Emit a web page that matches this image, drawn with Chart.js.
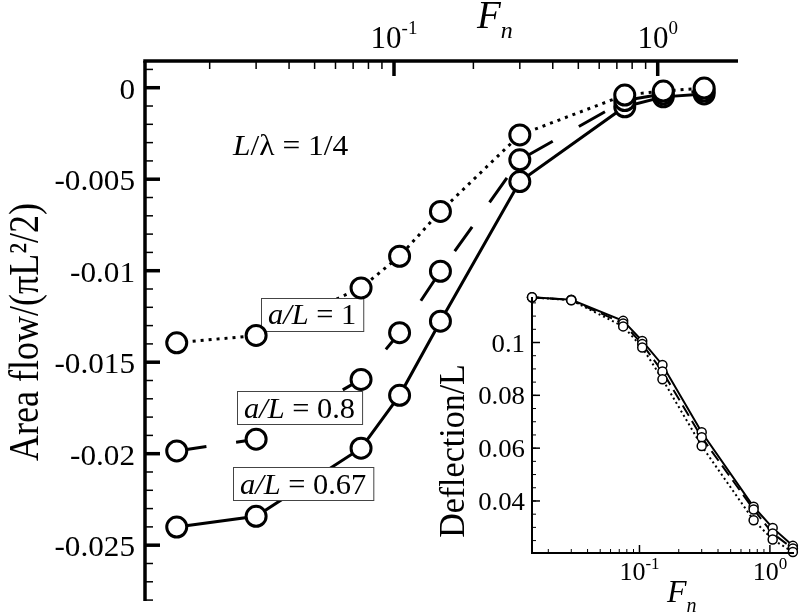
<!DOCTYPE html>
<html>
<head>
<meta charset="utf-8">
<script src="https://cdn.jsdelivr.net/npm/chart.js@4.4.1/dist/chart.umd.min.js"></script>
<style>
  html, body { margin: 0; padding: 0; background: #fff; }
  #quadro { position: relative; width: 800px; height: 614px; }
  #quadro canvas { position: absolute; left: 0; top: 0; }
</style>
</head>
<body>
<div id="quadro">
  <canvas id="graficoFluxo" width="800" height="614"></canvas>
  <canvas id="graficoDeflexao" width="800" height="614"></canvas>
</div>
<script>
const numerosFroude = [0.015, 0.03, 0.075, 0.105, 0.15, 0.3, 0.75, 1.05, 1.5];

const fluxoA100 = [-0.01394, -0.01354, -0.01094, -0.00921, -0.00676, -0.00258, -0.0004, -0.00018, -0.00002];
const fluxoA080 = [-0.01985, -0.01921, -0.01594, -0.01339, -0.01003, -0.00394, -0.0007, -0.00034, -0.00018];
const fluxoA067 = [-0.02401, -0.02342, -0.0197, -0.01681, -0.01276, -0.00513, -0.00104, -0.0005, -0.00034];

const deflexaoA100 = [0.1171, 0.116, 0.1061, 0.0981, 0.0861, 0.0608, 0.0327, 0.0254, 0.0207];
const deflexaoA080 = [0.1171, 0.1161, 0.1072, 0.0994, 0.089, 0.0641, 0.0368, 0.0277, 0.022];
const deflexaoA067 = [0.1171, 0.1162, 0.1082, 0.1006, 0.0915, 0.066, 0.0378, 0.0298, 0.023];

const ticksFluxo = [0, -0.005, -0.01, -0.015, -0.02, -0.025];
const rotulosFluxo = ["0", "-0.005", "-0.01", "-0.015", "-0.02", "-0.025"];
const ticksDeflexao = [0.1, 0.08, 0.06, 0.04];
const rotulosDeflexao = ["0.1", "0.08", "0.06", "0.04"];
const decadas = [0.1, 1];
const expoentes = ["-1", "0"];
const rotulosSeries = ["1", "0.8", "0.67"];

const FONTE = '"Liberation Serif", "DejaVu Serif", serif';

function fonte(tamanho, italico) {
  return `${italico ? "italic " : ""}${tamanho}px ${FONTE}`;
}

function pontos(valores) {
  return numerosFroude.map((x, i) => ({ x, y: valores[i] }));
}

function ticksMenoresLog(inicio, fim) {
  const lista = [];
  for (let d = inicio; d <= fim; d *= 10) {
    for (let k = 2; k <= 9; k++) lista.push(k * d);
  }
  return lista;
}

function medirPartes(ctx, partes) {
  return partes.reduce((total, p) => {
    ctx.font = fonte(p.tamanho, p.italico);
    return total + ctx.measureText(p.texto).width;
  }, 0);
}

// texto em partes (itálico, sobrescrito, subscrito), com leve esticamento horizontal
function escreverPartes(ctx, partes, x, y, alinhamento, escala = 1) {
  const largura = medirPartes(ctx, partes) * escala;

  let inicio = x;
  if (alinhamento === "center") inicio = x - largura / 2;
  if (alinhamento === "right") inicio = x - largura;

  ctx.save();
  ctx.translate(inicio, y);
  ctx.scale(escala, 1);
  ctx.textAlign = "left";
  ctx.textBaseline = "alphabetic";
  ctx.fillStyle = "#000";
  let cursor = 0;
  partes.forEach(p => {
    ctx.font = fonte(p.tamanho, p.italico);
    ctx.fillText(p.texto, cursor, -(p.subida || 0));
    cursor += ctx.measureText(p.texto).width;
  });
  ctx.restore();

  return largura;
}

function escreverVertical(ctx, texto, tamanho, x, y, escala = 1) {
  ctx.save();
  ctx.translate(x, y);
  ctx.rotate(-Math.PI / 2);
  ctx.scale(1, escala);
  ctx.font = fonte(tamanho, false);
  ctx.fillStyle = "#000";
  ctx.textAlign = "center";
  ctx.textBaseline = "alphabetic";
  ctx.fillText(texto, 0, 0);
  ctx.restore();
}

function traco(ctx, x1, y1, x2, y2, largura) {
  ctx.lineWidth = largura;
  ctx.beginPath();
  ctx.moveTo(x1, y1);
  ctx.lineTo(x2, y2);
  ctx.stroke();
}

// caixas com o valor de a/L (cobrem as linhas, ficam abaixo dos círculos)
function desenharCaixas(chart) {
  const ctx = chart.ctx;
  const caixas = [
    { x: 261, y: 298, base: 324 },
    { x: 237, y: 391, base: 418 },
    { x: 233, y: 467, base: 494 }
  ];

  ctx.save();
  caixas.forEach((caixa, i) => {
    const partes = [
      { texto: "a/L", tamanho: 29, italico: true },
      { texto: " = " + rotulosSeries[i], tamanho: 29 }
    ];
    const largura = medirPartes(ctx, partes) * 1.05;

    ctx.fillStyle = "#fff";
    ctx.fillRect(caixa.x, caixa.y, largura + 14, 33);
    ctx.strokeStyle = "#444";
    ctx.lineWidth = 1;
    ctx.strokeRect(caixa.x + 0.5, caixa.y + 0.5, largura + 14, 33);
    escreverPartes(ctx, partes, caixa.x + 7, caixa.base, "left", 1.05);
  });
  ctx.restore();
}

const eixosFluxo = {
  id: "eixosFluxo",
  afterDatasetDraw(chart, args) {
    if (args.index === 3) desenharCaixas(chart);
  },
  afterDatasetsDraw(chart) {
    const { ctx, chartArea } = chart;
    const { x: escalaX, y: escalaY } = chart.scales;
    const { left, top, right, bottom } = chartArea;

    ctx.save();
    ctx.strokeStyle = "#000";
    ctx.lineCap = "butt";

    // eixo superior (log) e eixo esquerdo
    traco(ctx, left - 1.75, top, right, top, 3.5);
    traco(ctx, left, top, left, bottom, 3.5);

    ticksMenoresLog(0.01, 0.1).forEach(valor => {
      const px = escalaX.getPixelForValue(valor);
      if (px > left + 2 && px < right) traco(ctx, px, top, px, top + 8, 1.5);
    });
    decadas.forEach((valor, i) => {
      const px = escalaX.getPixelForValue(valor);
      traco(ctx, px, top, px, top + 15, 3.5);
      escreverPartes(ctx, [
        { texto: "10", tamanho: 31 },
        { texto: expoentes[i], tamanho: 19, subida: 14 }
      ], px, 48, "center");
    });

    for (let v = 1; v >= -28; v--) {
      const py = escalaY.getPixelForValue(v / 1000);
      if (py > top + 2 && py < bottom) traco(ctx, left, py, left + 8, py, 1.5);
    }
    ticksFluxo.forEach((valor, i) => {
      const py = escalaY.getPixelForValue(valor);
      traco(ctx, left, py, left + 15, py, 3.5);
      escreverPartes(ctx, [{ texto: rotulosFluxo[i], tamanho: 30 }], 135, py + 11, "right", 1.04);
    });

    escreverPartes(ctx, [
      { texto: "F", tamanho: 39, italico: true },
      { texto: "n", tamanho: 24, italico: true, subida: -10 }
    ], 477, 28, "left");

    escreverPartes(ctx, [
      { texto: "L", tamanho: 30, italico: true },
      { texto: "/λ = 1/4", tamanho: 30 }
    ], 233, 155, "left", 1.05);

    escreverVertical(ctx, "Area flow/(πL²/2)", 36, 38, 332, 1.15);
    ctx.restore();
  }
};

const eixosDeflexao = {
  id: "eixosDeflexao",
  afterDatasetsDraw(chart) {
    const { ctx, chartArea } = chart;
    const { x: escalaX, y: escalaY } = chart.scales;
    const { left, top, right, bottom } = chartArea;

    ctx.save();
    ctx.strokeStyle = "#000";
    traco(ctx, left, top, left, bottom + 1, 2);
    traco(ctx, left - 1, bottom, right, bottom, 2);

    ticksMenoresLog(0.01, 0.1).forEach(valor => {
      const px = escalaX.getPixelForValue(valor);
      if (px > left + 2 && px < right) traco(ctx, px, bottom, px, bottom - 4, 1);
    });
    decadas.forEach((valor, i) => {
      const px = escalaX.getPixelForValue(valor);
      traco(ctx, px, bottom, px, bottom - 8, 1.5);
      escreverPartes(ctx, [
        { texto: "10", tamanho: 26 },
        { texto: expoentes[i], tamanho: 17, subida: 11 }
      ], px, 580, "center");
    });

    for (let v = 25; v <= 115; v += 5) {
      const py = escalaY.getPixelForValue(v / 1000);
      if (py > top && py < bottom - 2) traco(ctx, left, py, left + 4, py, 1);
    }
    ticksDeflexao.forEach((valor, i) => {
      const py = escalaY.getPixelForValue(valor);
      traco(ctx, left, py, left + 8, py, 1.5);
      escreverPartes(ctx, [{ texto: rotulosDeflexao[i], tamanho: 26 }], 525, py + 9, "right", 1.03);
    });

    escreverPartes(ctx, [
      { texto: "F", tamanho: 32, italico: true },
      { texto: "n", tamanho: 20, italico: true, subida: -10 }
    ], 667, 602, "left");

    escreverVertical(ctx, "Deflection/L", 34, 464, 451, 1.05);
    ctx.restore();
  }
};

function criarConjuntos(series, estilo) {
  const linhas = series.map((valores, i) => ({
    data: pontos(valores),
    order: 1,
    clip: false,
    borderColor: "#000",
    borderWidth: estilo.linha,
    borderDash: estilo.tracos[i],
    pointRadius: 0,
    tension: 0
  }));
  const circulos = series.map(valores => ({
    data: pontos(valores),
    order: 0,
    clip: false,
    showLine: false,
    pointRadius: estilo.raio,
    pointBorderWidth: estilo.borda,
    pointBorderColor: "#000",
    pointBackgroundColor: "#fff"
  }));
  return [...circulos, ...linhas];
}

function opcoesBase(padding, escalaX, escalaY) {
  return {
    responsive: false,
    animation: false,
    events: [],
    layout: { padding },
    plugins: { legend: { display: false }, tooltip: { enabled: false } },
    scales: {
      x: { type: "logarithmic", display: false, ...escalaX },
      y: { type: "linear", display: false, ...escalaY }
    }
  };
}

function carregarGraficos() {
  new Chart(document.getElementById("graficoFluxo"), {
    type: "line",
    data: {
      datasets: criarConjuntos([fluxoA100, fluxoA080, fluxoA067], {
        linha: 3,
        tracos: [[3, 5], [30, 30], []],
        raio: 10,
        borda: 3
      })
    },
    options: opcoesBase(
      { left: 145, top: 61, right: 62, bottom: 12 },
      { min: 0.01137, max: 2.016 },
      { min: -0.02805, max: 0.00146 }
    ),
    plugins: [eixosFluxo]
  });

  new Chart(document.getElementById("graficoDeflexao"), {
    type: "line",
    data: {
      datasets: criarConjuntos([deflexaoA100, deflexaoA080, deflexaoA067], {
        linha: 2,
        tracos: [[2, 3], [12, 6], []],
        raio: 4.5,
        borda: 1.5
      })
    },
    options: opcoesBase(
      { left: 532, top: 297, right: 5, bottom: 61 },
      { min: 0.015, max: 1.53 },
      { min: 0.0203, max: 0.11723 }
    ),
    plugins: [eixosDeflexao]
  });
}

document.addEventListener("DOMContentLoaded", carregarGraficos);
</script>
</body>
</html>
